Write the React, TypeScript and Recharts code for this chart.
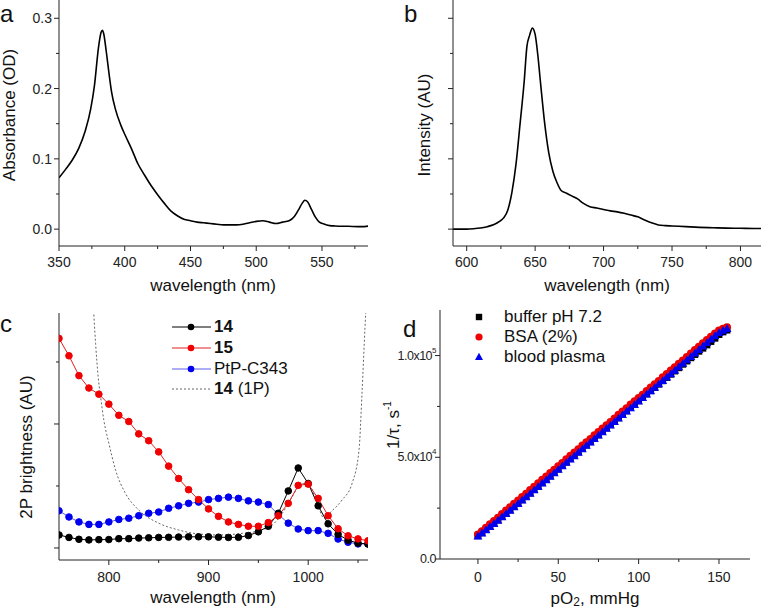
import React from "react";
import { LineChart, Line, XAxis, YAxis, ScatterChart, Scatter, Label } from "recharts";

const FONT = "'Liberation Sans', Arial, Helvetica, sans-serif";
const AXIS = "#222";

// ---- panel a: absorbance ----
const absWavelength = [
  350, 355, 360, 365, 370, 374, 377, 380, 382, 383, 384, 386, 388, 390, 393, 397, 400, 405, 410, 415,
  420, 425, 430, 435, 440, 445, 450, 455, 460, 465, 470, 475, 480, 485, 490, 495, 500, 505, 510, 515,
  520, 525, 529, 532, 535, 537, 539, 542, 545, 548, 552, 556, 560, 570, 580, 585,
];
const absorbance = [
  0.073, 0.085, 0.098, 0.115, 0.14, 0.17, 0.205, 0.258, 0.28, 0.283, 0.278, 0.252, 0.222, 0.195, 0.17, 0.148, 0.135, 0.115, 0.093, 0.077,
  0.062, 0.049, 0.037, 0.026, 0.019, 0.014, 0.012, 0.01, 0.009, 0.008, 0.007, 0.006, 0.006, 0.006, 0.007, 0.009, 0.011, 0.012, 0.01, 0.008,
  0.01, 0.012, 0.018, 0.027, 0.037, 0.041, 0.039, 0.028, 0.017, 0.01, 0.007, 0.005, 0.0045, 0.004, 0.0035, 0.0043,
];

// ---- panel b: emission ----
const emWavelength = [
  590, 600, 605, 610, 615, 620, 624, 627, 630, 633, 636, 639, 642, 644, 646, 648, 650, 652, 654, 657,
  660, 663, 666, 669, 673, 677, 681, 685, 690, 695, 700, 705, 710, 715, 720, 725, 730, 735, 740, 745,
  750, 760, 770, 780, 790, 800, 810, 815,
];
const emIntensity = [
  0, 0, 0.005, 0.015, 0.035, 0.065, 0.11, 0.16, 0.27, 0.52, 0.92, 1.5, 2.1, 2.6, 2.76, 2.86, 2.77, 2.47, 2.07, 1.5,
  1.08, 0.82, 0.66, 0.55, 0.51, 0.47, 0.43, 0.37, 0.32, 0.3, 0.28, 0.26, 0.245, 0.225, 0.2, 0.175, 0.13, 0.09, 0.06, 0.05,
  0.045, 0.035, 0.025, 0.02, 0.015, 0.012, 0.008, 0.008,
];

// ---- panel c: 2P brightness ----
const tpWavelength = [
  750, 760, 770, 780, 790, 800, 810, 820, 830, 840, 850, 860, 870, 880, 890, 900,
  910, 920, 930, 940, 950, 960, 970, 980, 990, 1000, 1010, 1020, 1030, 1040, 1050, 1060,
];
const bright14 = [
  0.105, 0.085, 0.07, 0.065, 0.067, 0.068, 0.075, 0.075, 0.08, 0.082, 0.085, 0.086, 0.088, 0.09, 0.09, 0.09,
  0.087, 0.085, 0.086, 0.1, 0.13, 0.175, 0.28, 0.46, 0.645, 0.52, 0.34, 0.195, 0.11, 0.063, 0.039, 0.032,
];
const bright15 = [
  1.69, 1.55, 1.39, 1.29, 1.24, 1.16, 1.07, 1.02, 0.92, 0.865, 0.775, 0.66, 0.56, 0.47, 0.39, 0.315,
  0.255, 0.21, 0.19, 0.175, 0.175, 0.205, 0.26, 0.36, 0.505, 0.515, 0.4, 0.26, 0.155, 0.098, 0.073, 0.058,
];
const brightPtP = [
  0.3, 0.25, 0.21, 0.19, 0.19, 0.21, 0.23, 0.24, 0.26, 0.28, 0.29, 0.32, 0.34, 0.36, 0.37, 0.39,
  0.4, 0.41, 0.4, 0.38, 0.37, 0.35, 0.27, 0.2, 0.153, 0.14, 0.14, 0.118, 0.072, 0.046, 0.033, 0.033,
];
const onePWavelength = [
  781, 784, 786.7, 789.3, 791.7, 795, 800, 806.7, 816.7, 830, 850, 870, 890, 910, 934, 951,
  964, 974, 983, 989, 996, 1001, 1008, 1016, 1023, 1034, 1044, 1051, 1054, 1057, 1059,
];
const onePValue = [
  2.3, 2.0, 1.65, 1.38, 1.22, 1.03, 0.845, 0.63, 0.44, 0.306, 0.2, 0.145, 0.113, 0.105, 0.118, 0.14,
  0.185, 0.28, 0.4, 0.48, 0.52, 0.508, 0.387, 0.24, 0.293, 0.387, 0.52, 0.79, 1.25, 1.78, 2.1,
];

// ---- panel d: Stern-Volmer ----
const pO2 = [
  0, 2.5, 5, 7.5, 10, 12.5, 15, 17.5, 20, 22.5, 25, 27.5, 30, 32.5, 35, 37.5, 40, 42.5, 45, 47.5,
  50, 52.5, 55, 57.5, 60, 62.5, 65, 67.5, 70, 72.5, 75, 77.5, 80, 82.5, 85, 87.5, 90, 92.5, 95, 97.5,
  100, 102.5, 105, 107.5, 110, 112.5, 115, 117.5, 120, 122.5, 125, 127.5, 130, 132.5, 135, 137.5, 140, 142.5, 145, 147.5,
  150, 152.5, 155,
];
const rateBuffer = [
  11400, 12900, 14500, 16100, 17600, 19200, 20900, 22500, 24100, 25800, 27400, 29100, 30700, 32400, 34100, 35800, 37500, 39100, 40800, 42500,
  44200, 45900, 47600, 49300, 50900, 52600, 54300, 56000, 57600, 59300, 61000, 62700, 64400, 66000, 67700, 69400, 71100, 72800, 74400, 76100,
  77800, 79500, 81100, 82700, 84300, 85900, 87600, 89200, 90800, 92400, 94000, 95700, 97300, 98900, 100500, 102100, 103600, 105200, 106900, 108500,
  110300, 111600, 112500,
];
const rateBSA = [
  12000, 13600, 15400, 17100, 18700, 20300, 22100, 23800, 25500, 27100, 28800, 30500, 32100, 33900, 35500, 37200, 38900, 40500, 42300, 43900,
  45600, 47200, 49000, 50700, 52300, 54000, 55800, 57400, 59000, 60800, 62400, 64100, 65800, 67400, 69100, 70900, 72500, 74100, 75900, 77500,
  79200, 80800, 82600, 84300, 85900, 87500, 89300, 91000, 92600, 94300, 96000, 97600, 99300, 101000, 102700, 104300, 106000, 107700, 109300, 110900,
  112300, 113200, 113900,
];
const ratePlasma = [
  11200, 12700, 14300, 15900, 17400, 19000, 20700, 22300, 23900, 25600, 27200, 28900, 30500, 32200, 33900, 35600, 37300, 38900, 40600, 42300,
  44000, 45700, 47400, 49100, 50700, 52400, 54100, 55800, 57400, 59100, 60800, 62500, 64200, 65800, 67500, 69200, 70900, 72600, 74200, 75900,
  77600, 79300, 81000, 82600, 84300, 86000, 87700, 89400, 91000, 92700, 94400, 96100, 97800, 99500, 101200, 102900, 104600, 106300, 108000, 109700,
  111200, 112300, 113200,
];

const absData = absWavelength.map((w, i) => ({ w, v: absorbance[i] }));
const emData = emWavelength.map((w, i) => ({ w, v: emIntensity[i] }));
const d14 = tpWavelength.map((w, i) => ({ w, v: bright14[i] }));
const d15 = tpWavelength.map((w, i) => ({ w, v: bright15[i] }));
const dPtP = tpWavelength.map((w, i) => ({ w, v: brightPtP[i] }));
const d1P = onePWavelength.map((w, i) => ({ w, v: onePValue[i] }));
const sBuffer = pO2.map((p, i) => ({ p, v: rateBuffer[i] }));
const sBSA = pO2.map((p, i) => ({ p, v: rateBSA[i] }));
const sPlasma = pO2.map((p, i) => ({ p, v: ratePlasma[i] }));

const near = (a: number, b: number) => Math.abs(a - b) < 1e-6;

// ticks drawn by hand so minor ticks can be shorter and unlabeled
const leftTick =
  (major: number[], fmt?: (v: number) => React.ReactNode, size = 14, gap = 7, spacing = 0) =>
  (props: any) => {
    const { x, y, payload } = props;
    const isMajor = major.some((m) => near(m, payload.value));
    const len = isMajor ? 5 : 3;
    return (
      <g>
        <line x1={x} x2={x - len} y1={y} y2={y} stroke={AXIS} />
        {isMajor && fmt ? (
          <text
            x={x - gap}
            y={y}
            textAnchor="end"
            dominantBaseline="central"
            fontSize={size}
            letterSpacing={spacing}
            fill="#222"
            fontFamily={FONT}
          >
            {fmt(payload.value)}
          </text>
        ) : null}
      </g>
    );
  };

const bottomTick = (major: number[], dy: number) => (props: any) => {
  const { x, y, payload } = props;
  const isMajor = major.some((m) => near(m, payload.value));
  const len = isMajor ? 5 : 3;
  return (
    <g>
      <line x1={x} x2={x} y1={y} y2={y + len} stroke={AXIS} />
      {isMajor ? (
        <text x={x} y={y + dy} textAnchor="middle" dominantBaseline="central" fontSize={14} fill="#222" fontFamily={FONT}>
          {payload.value}
        </text>
      ) : null}
    </g>
  );
};

const axisTitle = (x: number, y: number, body: React.ReactNode, rotate = false) => () => (
  <text
    x={x}
    y={y}
    transform={rotate ? `rotate(-90 ${x} ${y})` : undefined}
    textAnchor="middle"
    dominantBaseline="central"
    fontSize={17}
    fill="#111"
    fontFamily={FONT}
  >
    {body}
  </text>
);

const sci = (v: number) => {
  if (v === 0) return "0.0";
  const exp = Math.floor(Math.log10(v));
  const m = (v / Math.pow(10, exp)).toFixed(1);
  return (
    <>
      {m}x10
      <tspan dy={-6} fontSize={8}>
        {exp}
      </tspan>
    </>
  );
};

const aMajorX = [350, 400, 450, 500, 550];
const aMinorX = [375, 425, 475, 525, 575];
const aMajorY = [0, 0.1, 0.2, 0.3];
const aMinorY = [0.05, 0.15, 0.25];

const bMajorX = [600, 650, 700, 750, 800];
const bMinorX = [625, 675, 725, 775];
const bMajorY = [0, 1, 2, 3];
const bMinorY = [0.5, 1.5, 2.5];

const cMajorX = [800, 900, 1000];
const cMinorX = [850, 950, 1050];
const cMajorY = [0, 1];
const cMinorY = [0.5, 1.5];

const dMajorX = [0, 50, 100, 150];
const dMinorX = [25, 75, 125];
const dMajorY = [0, 50000, 100000];
const dMinorY = [25000, 75000];

const PanelA = () => (
  <LineChart width={381} height={300} data={absData} margin={{ top: 0, right: 13, bottom: 0, left: 0 }}>
    <XAxis
      type="number"
      dataKey="w"
      domain={[350, 585]}
      ticks={[...aMajorX, ...aMinorX].sort((a, b) => a - b)}
      interval={0}
      tick={bottomTick(aMajorX, 16)}
      tickLine={false}
      tickSize={0}
      tickMargin={0}
      height={54}
      axisLine={{ stroke: AXIS }}
      allowDataOverflow
    >
      <Label content={axisTitle(213, 285, "wavelength (nm)")} />
    </XAxis>
    <YAxis
      type="number"
      domain={[-0.024, 0.326]}
      ticks={[...aMajorY, ...aMinorY].sort((a, b) => a - b)}
      interval={0}
      tick={leftTick(aMajorY, (v) => v.toFixed(1))}
      tickLine={false}
      tickSize={0}
      tickMargin={0}
      width={59}
      axisLine={{ stroke: AXIS }}
      allowDataOverflow
    >
      <Label content={axisTitle(9, 115, "Absorbance (OD)", true)} />
    </YAxis>
    <Line type="monotone" dataKey="v" stroke="#000" strokeWidth={1.6} dot={false} isAnimationActive={false} />
  </LineChart>
);

const PanelB = () => (
  <LineChart width={381} height={300} data={emData} margin={{ top: 0, right: 1, bottom: 0, left: 0 }}>
    <XAxis
      type="number"
      dataKey="w"
      domain={[590, 815]}
      ticks={[...bMajorX, ...bMinorX].sort((a, b) => a - b)}
      interval={0}
      tick={bottomTick(bMajorX, 16)}
      tickLine={false}
      tickSize={0}
      tickMargin={0}
      height={54}
      axisLine={{ stroke: AXIS }}
      allowDataOverflow
    >
      <Label content={axisTitle(226, 285, "wavelength (nm)")} />
    </XAxis>
    <YAxis
      type="number"
      domain={[-0.24, 3.26]}
      ticks={[...bMajorY, ...bMinorY].sort((a, b) => a - b)}
      interval={0}
      tick={leftTick(bMajorY)}
      tickLine={false}
      tickSize={0}
      tickMargin={0}
      width={72}
      axisLine={{ stroke: AXIS }}
      allowDataOverflow
    >
      <Label content={axisTitle(43, 125, "Intensity (AU)", true)} />
    </YAxis>
    <Line type="monotone" dataKey="v" stroke="#000" strokeWidth={1.6} dot={false} isAnimationActive={false} />
  </LineChart>
);

const PanelC = () => (
  <LineChart width={381} height={311} margin={{ top: 13, right: 13, bottom: 0, left: 0 }}>
    <XAxis
      type="number"
      dataKey="w"
      domain={[750, 1060]}
      ticks={[...cMajorX, ...cMinorX].sort((a, b) => a - b)}
      interval={0}
      tick={bottomTick(cMajorX, 17)}
      tickLine={false}
      tickSize={0}
      tickMargin={0}
      height={51}
      axisLine={{ stroke: AXIS }}
      allowDataOverflow
    >
      <Label content={axisTitle(213, 297, "wavelength (nm)")} />
    </XAxis>
    <YAxis
      type="number"
      dataKey="v"
      domain={[-0.097, 1.895]}
      ticks={[...cMajorY, ...cMinorY].sort((a, b) => a - b)}
      interval={0}
      tick={leftTick(cMajorY)}
      tickLine={false}
      tickSize={0}
      tickMargin={0}
      width={59}
      axisLine={{ stroke: AXIS }}
      allowDataOverflow
    >
      <Label content={axisTitle(26, 147, "2P brightness (AU)", true)} />
    </YAxis>
    <Line data={d1P} type="monotone" dataKey="v" stroke="#555" strokeWidth={0.9} strokeDasharray="2 2" dot={false} isAnimationActive={false} />
    <Line data={dPtP} type="linear" dataKey="v" stroke="#5a5af0" strokeWidth={1} dot={{ r: 3.3, fill: "#0000f0", stroke: "#0000f0" }} isAnimationActive={false} />
    <Line data={d14} type="linear" dataKey="v" stroke="#000" strokeWidth={1} dot={{ r: 3.3, fill: "#000", stroke: "#000" }} isAnimationActive={false} />
    <Line data={d15} type="linear" dataKey="v" stroke="#e02020" strokeWidth={1} dot={{ r: 3.3, fill: "#f00000", stroke: "#f00000" }} isAnimationActive={false} />
  </LineChart>
);

const squareShape = (p: any) => <rect x={p.cx - 3.4} y={p.cy - 3.4} width={6.8} height={6.8} fill="#000" />;
const circleShape = (p: any) => <circle cx={p.cx} cy={p.cy} r={4} fill="#f00000" />;
const triangleShape = (p: any) => (
  <polygon points={`${p.cx},${p.cy - 4.6} ${p.cx - 4.4},${p.cy + 3.3} ${p.cx + 4.4},${p.cy + 3.3}`} fill="#0000f0" />
);

// panel d sits 10px further left than the grid so its rotated title has room
const PanelD = () => (
  <ScatterChart width={391} height={311} margin={{ top: 10, right: 12, bottom: 0, left: 0 }}>
    <XAxis
      type="number"
      dataKey="p"
      domain={[-23.6, 169.3]}
      ticks={[...dMajorX, ...dMinorX].sort((a, b) => a - b)}
      interval={0}
      tick={bottomTick(dMajorX, 18)}
      tickLine={false}
      tickSize={0}
      tickMargin={0}
      height={52}
      axisLine={{ stroke: AXIS }}
      allowDataOverflow
    >
      <Label
        content={axisTitle(
          224,
          298,
          <>
            pO
            <tspan dy={4} fontSize={12}>
              2
            </tspan>
            <tspan dy={-4}>, mmHg</tspan>
          </>
        )}
      />
    </XAxis>
    <YAxis
      type="number"
      dataKey="v"
      domain={[0, 122400]}
      ticks={[...dMajorY, ...dMinorY].sort((a, b) => a - b)}
      interval={0}
      tick={leftTick(dMajorY, sci, 12.5, 4, -0.5)}
      tickLine={false}
      tickSize={0}
      tickMargin={0}
      width={69}
      axisLine={{ stroke: AXIS }}
      allowDataOverflow
    >
      <Label
        content={axisTitle(
          22,
          125,
          <>
            1/τ, s
            <tspan dy={-6} fontSize={10}>
              -1
            </tspan>
          </>,
          true
        )}
      />
    </YAxis>
    <Scatter data={sBuffer} dataKey="v" shape={squareShape} isAnimationActive={false} />
    <Scatter data={sBSA} dataKey="v" shape={circleShape} isAnimationActive={false} />
    <Scatter data={sPlasma} dataKey="v" shape={triangleShape} isAnimationActive={false} />
  </ScatterChart>
);

const legendText: React.CSSProperties = { position: "absolute", fontSize: 17, lineHeight: "20px", color: "#111", whiteSpace: "nowrap" };

const LegendC = () => {
  const rows = [
    { line: "#000", dot: "#000", dash: false, label: <b>14</b> },
    { line: "#e02020", dot: "#f00000", dash: false, label: <b>15</b> },
    { line: "#5a5af0", dot: "#0000f0", dash: false, label: <span>PtP-C343</span> },
    { line: "#555", dot: "", dash: true, label: <span><b>14</b> (1P)</span> },
  ];
  const ys = [327, 348, 369, 389];
  return (
    <>
      {rows.map((r, i) => (
        <React.Fragment key={i}>
          <svg style={{ position: "absolute", left: 170, top: ys[i] - 6 }} width={42} height={12}>
            <line x1={2} x2={41} y1={6} y2={6} stroke={r.line} strokeWidth={r.dash ? 0.9 : 1} strokeDasharray={r.dash ? "2 2" : undefined} />
            {r.dot ? <circle cx={21} cy={6} r={3.3} fill={r.dot} /> : null}
          </svg>
          <div style={{ ...legendText, left: 214, top: ys[i] - 10 }}>{r.label}</div>
        </React.Fragment>
      ))}
    </>
  );
};

const LegendD = () => {
  const ys = [317, 337, 357];
  const labels = ["buffer pH 7.2", "BSA (2%)", "blood plasma"];
  return (
    <>
      <svg style={{ position: "absolute", left: 471, top: 308 }} width={16} height={56}>
        <rect x={4.8} y={5.8} width={6.4} height={6.4} fill="#000" />
        <circle cx={8} cy={29} r={3.6} fill="#f00000" />
        <polygon points="8,44.8 4,52 12,52" fill="#0000f0" />
      </svg>
      {labels.map((l, i) => (
        <div key={l} style={{ ...legendText, left: 504, top: ys[i] - 10 }}>
          {l}
        </div>
      ))}
    </>
  );
};

const letter = (ch: string, left: number, top: number) => (
  <div style={{ position: "absolute", left, top, fontSize: 24, lineHeight: "28px", color: "#111" }}>{ch}</div>
);

export default function App() {
  return (
    <div style={{ position: "absolute", left: 0, top: 0, width: 762, height: 611, background: "#fff", overflow: "hidden", fontFamily: FONT }}>
      <div style={{ position: "absolute", left: 0, top: 0 }}>
        <PanelA />
      </div>
      <div style={{ position: "absolute", left: 381, top: 0 }}>
        <PanelB />
      </div>
      <div style={{ position: "absolute", left: 0, top: 300 }}>
        <PanelC />
      </div>
      <div style={{ position: "absolute", left: 371, top: 300 }}>
        <PanelD />
      </div>
      <LegendC />
      <LegendD />
      {letter("a", 0, 0)}
      {letter("b", 404, 0)}
      {letter("c", 0, 310)}
      {letter("d", 403, 315)}
    </div>
  );
}
